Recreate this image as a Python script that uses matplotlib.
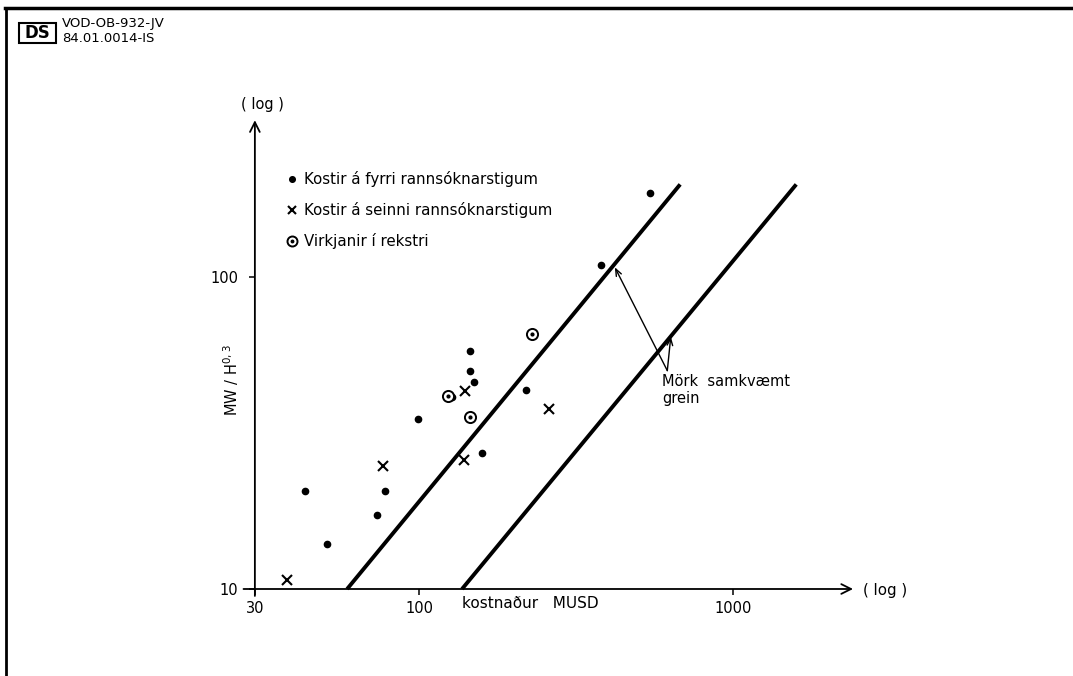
import matplotlib
matplotlib.use("Agg")
import matplotlib.pyplot as plt
from matplotlib.lines import Line2D
from matplotlib.patches import Rectangle
from matplotlib.legend_handler import HandlerTuple
from matplotlib.ticker import NullLocator

# points (cost MUSD, MW / H^0.3)
early_x = [43.3, 50.9, 73.6, 77.8, 99.3, 127, 145, 145, 150, 159, 219, 380, 543]
early_y = [20.6, 13.9, 17.3, 20.6, 35.1, 41.1, 57.7, 50.0, 46.1, 27.3, 43.5, 109.3, 185.9]

later_x = [38.1, 77, 139, 140, 260]
later_y = [10.7, 24.8, 26.0, 43.1, 37.8]

plant_x = [124, 145, 229]
plant_y = [41.6, 35.6, 65.7]

# the two "economic limit" lines
line_a_x = [59, 678]
line_a_y = [10, 198]
line_b_x = [137, 1588]
line_b_y = [10, 198]

x_ticks = [30, 100, 1000]
y_ticks = [10, 100]

legend_labels = ["Kostir á fyrri rannsóknarstigum",
                 "Kostir á seinni rannsóknarstigum",
                 "Virkjanir í rekstri"]

W, H = 1073, 676
plt.rcParams['font.family'] = ['DejaVu Sans']


def px(x, y):
    # pixel position (from top-left) -> figure fraction
    return x / W, 1 - y / H


fig = plt.figure(figsize=(W / 100, H / 100), dpi=100)
ax = fig.add_axes([240 / W, (H - 600) / H, 630 / W, 505 / H])
ax.set_xscale('log')
ax.set_yscale('log')
ax.set_xlim(26.9, 2727)
ax.set_ylim(9.22, 383)

for s in ax.spines.values():
    s.set_visible(False)
ax.spines['bottom'].set_position(('data', 10))
ax.spines['left'].set_position(('data', 30))

ax.set_xticks(x_ticks)
ax.set_xticklabels([str(v) for v in x_ticks])
ax.set_yticks(y_ticks)
ax.set_yticklabels([str(v) for v in y_ticks])
ax.xaxis.set_minor_locator(NullLocator())
ax.yaxis.set_minor_locator(NullLocator())
ax.tick_params(axis='both', direction='out', length=4, width=1.1,
               labelsize=10.5, pad=5)
ax.tick_params(axis='y', pad=8)

# axes drawn as arrows
arrow_kw = dict(arrowstyle='->,head_length=0.7,head_width=0.35', lw=1.3,
                color='black', shrinkA=0, shrinkB=0)
ax.annotate('', xy=(2408, 10), xytext=(27.6, 10), arrowprops=arrow_kw,
            annotation_clip=False)
ax.annotate('', xy=(30, 318), xytext=(30, 9.5), arrowprops=arrow_kw,
            annotation_clip=False)

ax.plot(line_a_x, line_a_y, color='black', lw=2.8, solid_capstyle='butt')
ax.plot(line_b_x, line_b_y, color='black', lw=2.8, solid_capstyle='butt')

h1, = ax.plot(early_x, early_y, 'o', color='black', ms=4.5, ls='none')
h2, = ax.plot(later_x, later_y, 'x', color='black', ms=7, mew=1.5, ls='none')
h3a, = ax.plot(plant_x, plant_y, 'o', mfc='white', mec='black', ms=8, mew=1.4,
               ls='none')
h3b, = ax.plot(plant_x, plant_y, 'o', color='black', ms=2, ls='none')

ax.legend([h1, h2, (h3a, h3b)], legend_labels,
          handler_map={tuple: HandlerTuple(ndivide=1)},
          loc='upper left', bbox_to_anchor=px(287, 171), bbox_transform=fig.transFigure,
          frameon=False, fontsize=10.8, handlelength=0.6, handletextpad=0.5,
          labelspacing=1.0, borderpad=0, borderaxespad=0, markerscale=0.9)

# annotation of the two lines
thin = dict(arrowstyle='->,head_length=0.5,head_width=0.2', lw=1.0,
            color='black', shrinkA=0, shrinkB=0)
ax.annotate('', xy=(420, 107.4), xytext=(617, 50.1), arrowprops=thin)
ax.annotate('', xy=(633, 64.4), xytext=(617, 50.1), arrowprops=thin)
fig.text(*px(662, 382), 'Mörk  samkvæmt', fontsize=10.5, va='center', ha='left')
fig.text(*px(662, 399), 'grein', fontsize=10.5, va='center', ha='left')

# axis labels
fig.text(*px(262, 104), '( log )', fontsize=10.5, ha='center', va='center')
fig.text(*px(863, 590), '( log )', fontsize=10.8, ha='left', va='center')
fig.text(*px(462, 604), 'kostnaður   MUSD', fontsize=11, ha='left', va='center')
fig.text(*px(231, 380), r'MW / H$^{\mathregular{0,3}}$', fontsize=10.5, rotation=90,
         ha='center', va='center')

# document header and frame
fig.add_artist(Line2D([5 / W, 1], [1 - 8 / H, 1 - 8 / H], color='black', lw=2.5,
                      transform=fig.transFigure))
fig.add_artist(Line2D([6 / W, 6 / W], [1 - 8 / H, 0], color='black', lw=2.0,
                      transform=fig.transFigure))
x0, y0 = px(19, 43)
x1, y1 = px(56, 23)
fig.add_artist(Rectangle((x0, y0), x1 - x0, y1 - y0, fill=False, lw=1.5,
                         edgecolor='black', transform=fig.transFigure))
fig.text(*px(37.5, 33), 'DS', fontsize=12, fontweight='bold', ha='center', va='center')
fig.text(*px(62, 23), 'VOD-OB-932-JV', fontsize=9.5, ha='left', va='center')
fig.text(*px(62, 38), '84.01.0014-IS', fontsize=9.5, ha='left', va='center')

fig.savefig('out.png', dpi=100)
